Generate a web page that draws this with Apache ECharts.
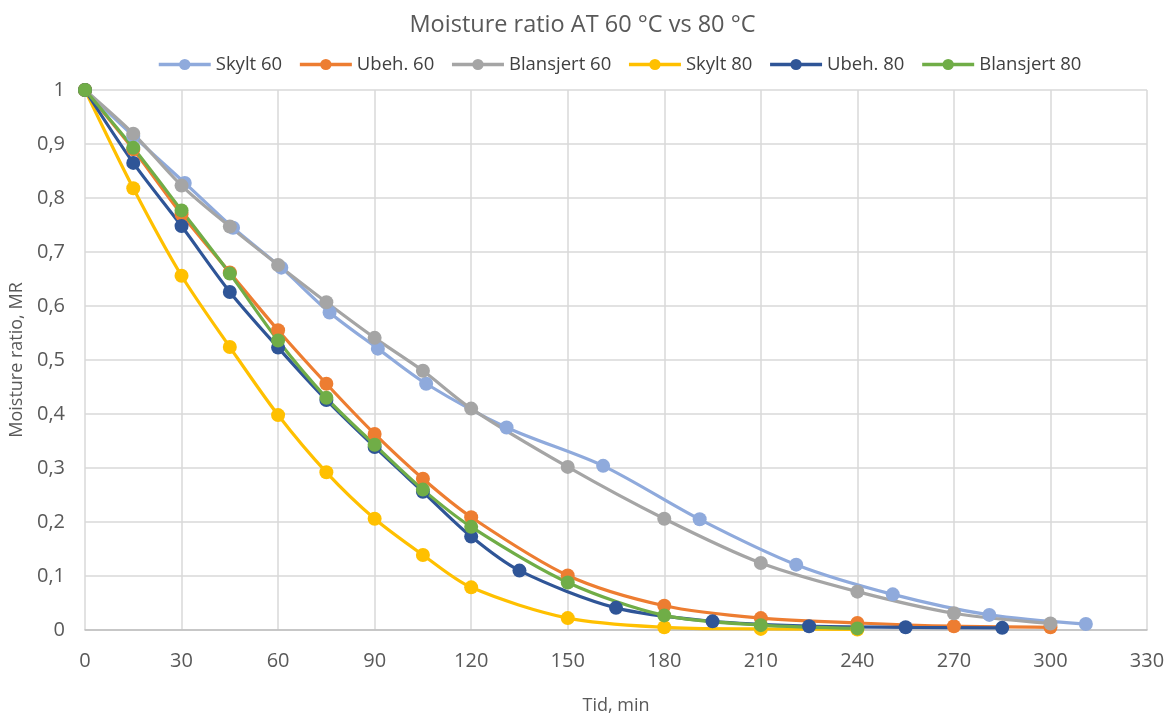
<!DOCTYPE html>
<html>
<head>
<meta charset="utf-8">
<script src="https://cdn.jsdelivr.net/npm/echarts@6/dist/echarts.min.js"></script>
<style>
  html, body { margin: 0; padding: 0; background: #fff; }
  #main { width: 1165px; height: 717px; }
</style>
</head>
<body>
<div id="main"></div>
<script>
// tider (min) og MR-verdier lest av figuren
var skylt60X = [0, 15, 31, 46, 61, 76, 91, 106, 131, 161, 191, 221, 251, 281, 311];
var skylt60Y = [1, 0.915, 0.828, 0.745, 0.671, 0.588, 0.521, 0.456, 0.375, 0.304, 0.205, 0.121, 0.066, 0.028, 0.011];

var ubeh60X = [0, 15, 30, 45, 60, 75, 90, 105, 120, 150, 180, 210, 240, 270, 300];
var ubeh60Y = [1, 0.89, 0.77, 0.662, 0.555, 0.456, 0.363, 0.28, 0.209, 0.101, 0.045, 0.022, 0.013, 0.007, 0.005];

var blans60X = [0, 15, 30, 45, 60, 75, 90, 105, 120, 150, 180, 210, 240, 270, 300];
var blans60Y = [1, 0.919, 0.823, 0.747, 0.676, 0.607, 0.541, 0.48, 0.41, 0.302, 0.206, 0.124, 0.071, 0.031, 0.012];

var skylt80X = [0, 15, 30, 45, 60, 75, 90, 105, 120, 150, 180, 210, 240];
var skylt80Y = [1, 0.818, 0.656, 0.524, 0.398, 0.292, 0.206, 0.139, 0.079, 0.022, 0.005, 0.002, 0.001];

var ubeh80X = [0, 15, 30, 45, 60, 75, 90, 105, 120, 135, 165, 195, 225, 255, 285];
var ubeh80Y = [1, 0.865, 0.748, 0.626, 0.523, 0.426, 0.339, 0.256, 0.173, 0.11, 0.041, 0.016, 0.007, 0.005, 0.004];

var blans80X = [0, 15, 30, 45, 60, 75, 90, 105, 120, 150, 180, 210, 240];
var blans80Y = [1, 0.893, 0.777, 0.66, 0.536, 0.43, 0.343, 0.26, 0.191, 0.088, 0.027, 0.009, 0.003];

var seriesNames = ["Skylt 60", "Ubeh. 60", "Blansjert 60", "Skylt 80", "Ubeh. 80", "Blansjert 80"];
var seriesColors = ["#8FAADC", "#ED7D31", "#A5A5A5", "#FFC000", "#2F5597", "#70AD47"];

var allX = [skylt60X, ubeh60X, blans60X, skylt80X, ubeh80X, blans80X];
var allY = [skylt60Y, ubeh60Y, blans60Y, skylt80Y, ubeh80Y, blans80Y];

function pairs(xs, ys) {
  var out = [];
  for (var i = 0; i < xs.length; i++) out.push([xs[i], ys[i]]);
  return out;
}

var series = [];
for (var i = 0; i < seriesNames.length; i++) {
  series.push({
    name: seriesNames[i],
    type: "line",
    smooth: 0.3,
    symbol: "circle",
    symbolSize: 14,
    lineStyle: { width: 3.2, color: seriesColors[i] },
    itemStyle: { color: seriesColors[i] },
    data: pairs(allX[i], allY[i])
  });
}

var myChart = echarts.init(document.getElementById("main"));

var option = {
  animation: false,
  color: seriesColors,
  title: {
    text: "Moisture ratio AT 60 °C vs 80 °C",
    left: "center",
    top: 8,
    textStyle: { fontFamily: "Open Sans", fontSize: 23.5, fontWeight: "normal", color: "#595959" }
  },
  legend: {
    top: 50,
    left: 152,
    itemWidth: 52,
    itemHeight: 14,
    itemGap: 16,
    lineStyle: { width: 3.5 },
    textStyle: { fontFamily: "Open Sans", fontSize: 18.5, color: "#404040" },
    data: seriesNames
  },
  grid: {
    left: 85,
    right: 18,
    top: 90,
    bottom: 87,
    containLabel: false,
    outerBoundsMode: "none"
  },
  xAxis: {
    type: "value",
    min: 0,
    max: 330,
    interval: 30,
    name: "Tid, min",
    nameLocation: "middle",
    nameGap: 67,
    nameTextStyle: { fontFamily: "Open Sans", fontSize: 18, color: "#595959" },
    axisLine: { show: true, lineStyle: { color: "#BFBFBF", width: 1.5 } },
    axisTick: { show: false },
    axisLabel: { margin: 21, fontFamily: "Open Sans", fontSize: 20, color: "#595959" },
    splitLine: { show: true, lineStyle: { color: "#D9D9D9", width: 1.5 } }
  },
  yAxis: {
    type: "value",
    min: 0,
    max: 1,
    interval: 0.1,
    name: "Moisture ratio, MR",
    nameLocation: "middle",
    nameGap: 56,
    nameTextStyle: { fontFamily: "Open Sans", fontSize: 18, color: "#595959" },
    axisLine: { show: false },
    axisTick: { show: false },
    axisLabel: {
      margin: 20,
      fontFamily: "Open Sans",
      fontSize: 20,
      color: "#595959",
      formatter: function (v) { return String(+v.toFixed(1)).replace(".", ","); }
    },
    splitLine: { show: true, lineStyle: { color: "#D9D9D9", width: 1.5 } }
  },
  series: series
};

myChart.setOption(option);
</script>
</body>
</html>
